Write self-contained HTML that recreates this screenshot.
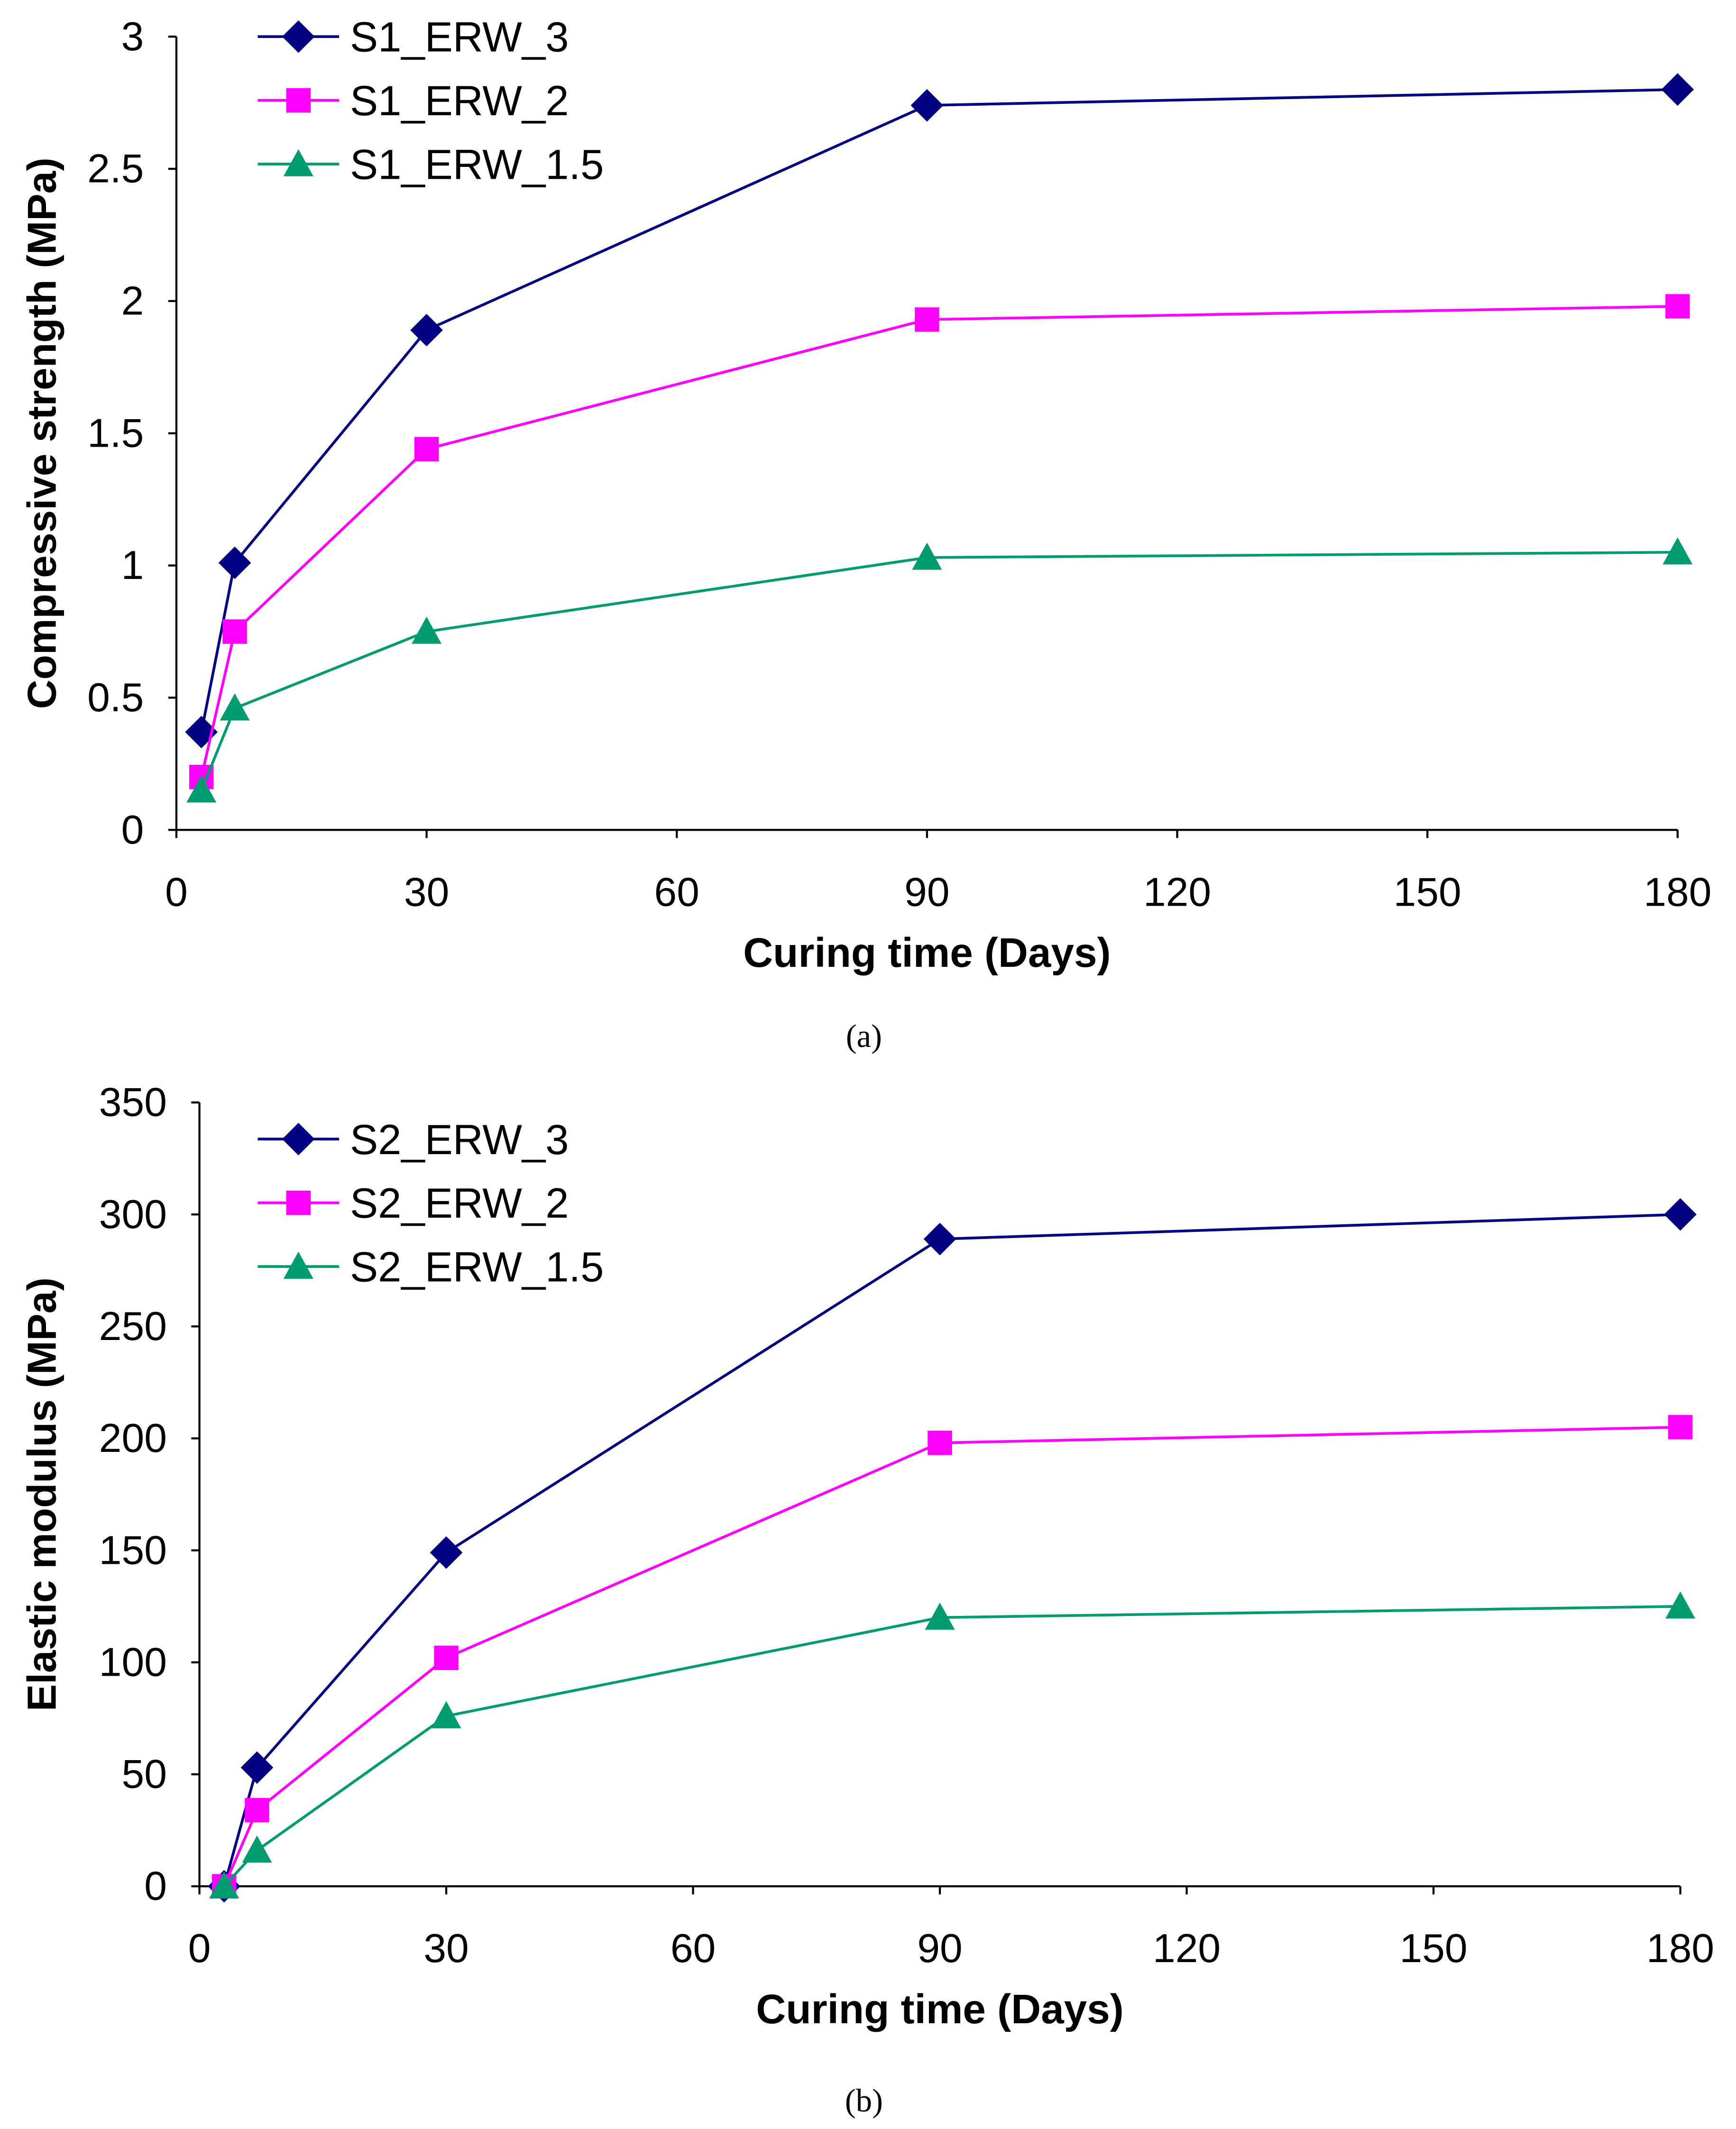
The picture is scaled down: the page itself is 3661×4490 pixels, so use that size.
<!DOCTYPE html>
<html><head><meta charset="utf-8"><style>
html,body{margin:0;padding:0;background:#fff;}
svg{display:block;}
text{font-family:"Liberation Sans",Arial,sans-serif;}
</style></head><body>
<svg id="chart" width="3661" height="4490" viewBox="0 0 1280 1570" xmlns="http://www.w3.org/2000/svg"></svg>
<script>
const days=[3,7,30,90,180];
const xTicks=[0,30,60,90,120,150,180];
const namesA=["S1_ERW_3","S1_ERW_2","S1_ERW_1.5"];
const a3=[0.37,1.01,1.89,2.74,2.80];
const a2=[0.20,0.75,1.44,1.93,1.98];
const a15=[0.15,0.46,0.75,1.03,1.05];
const yTicksA=[0,0.5,1,1.5,2,2.5,3];
const namesB=["S2_ERW_3","S2_ERW_2","S2_ERW_1.5"];
const b3=[0,53,149,289,300];
const b2=[0,34,102,198,205];
const b15=[0,16,76,120,125];
const yTicksB=[0,50,100,150,200,250,300,350];

const NS="http://www.w3.org/2000/svg";
const svg=document.getElementById('chart');
const colors=["#000080","#FF00FF","#009B6E"];
const shapes=["diamond","square","triangle"];
function el(tag,attrs,parent){const e=document.createElementNS(NS,tag);for(const k in attrs)e.setAttribute(k,attrs[k]);(parent||svg).appendChild(e);return e;}
function marker(g,shape,x,y,c){
  let m;
  if(shape==="diamond")m=el('polygon',{points:`${x},${y-12} ${x+12},${y} ${x},${y+12} ${x-12},${y}`,fill:c},g);
  else if(shape==="square")m=el('rect',{x:x-9,y:y-9,width:18,height:18,fill:c},g);
  else m=el('polygon',{points:`${x},${y-11} ${x+11},${y+9} ${x-11},${y+9}`,fill:c},g);
  
  
}
function chart(cfg){
  const g=el('g',{});
  
  
  const xs=v=>cfg.x0+(cfg.x1-cfg.x0)*v/180;
  const ys=v=>cfg.y0-(cfg.y0-cfg.y1)*v/cfg.ymax;
  const ax=el('path',{d:`M${cfg.x0},${cfg.y1} V${cfg.y0} H${cfg.x1}`,stroke:"#000",'stroke-width':1.5,fill:"none"},g);
  
  
  cfg.yTicks.forEach(t=>{
    const y=ys(t);
    el('line',{x1:cfg.x0-6,x2:cfg.x0,y1:y,y2:y,stroke:"#000",'stroke-width':1.5},g);
    const tx=el('text',{x:cfg.x0-24,y:y+10,'text-anchor':'end','font-size':30},g);
    tx.textContent=t;
    
    
  });
  xTicks.forEach(t=>{
    const x=xs(t);
    el('line',{x1:x,x2:x,y1:cfg.y0,y2:cfg.y0+6,stroke:"#000",'stroke-width':1.5},g);
    const tx=el('text',{x:x,y:cfg.y0+56,'text-anchor':'middle','font-size':30},g);
    tx.textContent=t;
    
    
  });
  const xt=el('text',{x:(cfg.x0+cfg.x1)/2,y:cfg.y0+101,'text-anchor':'middle','font-size':30.5,'font-weight':'bold'},g);
  xt.textContent="Curing time (Days)";
  
  
  const yc=(cfg.y0+cfg.y1)/2;
  const yt=el('text',{x:41,y:yc,'text-anchor':'middle','font-size':30,'font-weight':'bold',transform:`rotate(-90 41 ${yc})`},g);
  yt.textContent=cfg.ytitle;
  
  
  cfg.series.forEach((s,i)=>{
    const sg=el('g',{},g);
    
    
    const pts=s.map((v,j)=>xs(days[j])+","+ys(v)).join(" ");
    el('polyline',{points:pts,fill:"none",stroke:colors[i],'stroke-width':2},sg);
    s.forEach((v,j)=>marker(sg,shapes[i],xs(days[j]),ys(v),colors[i]));
    const lg=el('g',{},g);
    
    
    const ly=cfg.ly+i*47;
    el('line',{x1:190,x2:250,y1:ly,y2:ly,stroke:colors[i],'stroke-width':2},lg);
    marker(lg,shapes[i],220,ly,colors[i]);
    const t=el('text',{x:258,y:ly+11,'font-size':31},lg);
    t.textContent=cfg.names[i];
  });
  const cap=el('text',{x:637,y:cfg.cap,'text-anchor':'middle','font-size':24,style:'font-family:"Liberation Serif",serif'},g);
  cap.textContent=cfg.capText;
  
  
}
chart({id:'chart-a',x0:130,x1:1237,y0:612,y1:27,ymax:3,yTicks:yTicksA,series:[a3,a2,a15],names:namesA,ytitle:"Compressive strength (MPa)",ly:27,cap:772,capText:"(a)"});
chart({id:'chart-b',x0:147,x1:1239,y0:1391,y1:813,ymax:350,yTicks:yTicksB,series:[b3,b2,b15],names:namesB,ytitle:"Elastic modulus (MPa)",ly:840,cap:1557,capText:"(b)"});
</script>
</body></html>
